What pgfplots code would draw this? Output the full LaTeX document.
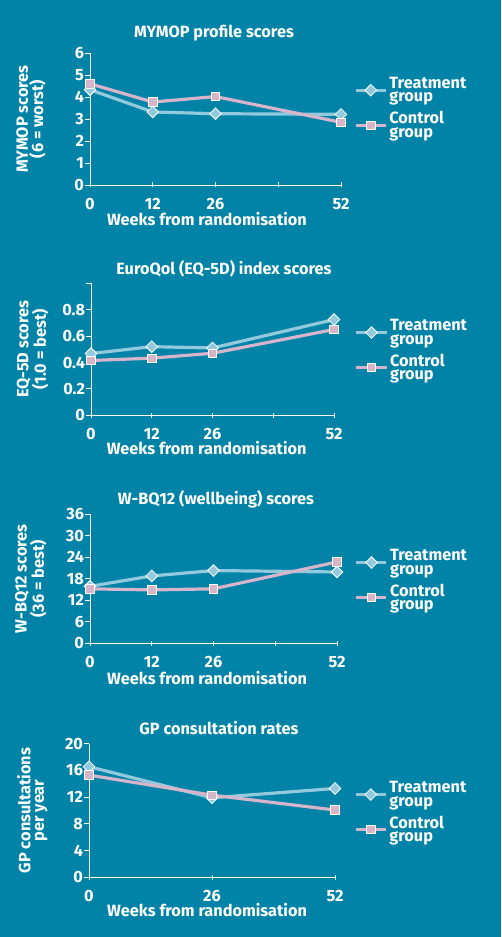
\documentclass[border=0pt]{standalone}
\usepackage{pgfplots}
\pgfplotsset{compat=1.18}
\usepackage{fontspec}
\setmainfont{Fira Sans}
\definecolor{bg}{RGB}{0,131,166}
\definecolor{treat}{RGB}{146,201,220}
\definecolor{ctrl}{RGB}{214,180,201}
\newcommand{\ff}{\fontsize{16.3}{13.5}\selectfont\bfseries}
\pgfplotsset{
  panel/.style={
    scale only axis, anchor=south west, clip=false,
    axis lines=left, axis line style={-, white, line width=0.9pt},
    xmin=0, xmax=52, enlargelimits=false,
    tick align=center, major tick length=5pt,
    tick style={white, line width=0.9pt},
    ytick style={xshift=-2.5pt},
    /pgf/number format/assume math mode=true,
    font=\ff, text=white,
    ticklabel style={text=white, font=\ff},
    xticklabel style={yshift=-7pt},
    title style={anchor=base, font=\ff, text=white},
    xlabel style={anchor=base, font=\ff, text=white},
    ylabel style={anchor=center, align=center, font=\ff, text=white},
    xlabel={Weeks from randomisation},
    legend cell align=left,
    legend style={draw=none, fill=none, text=white, font=\ff,
      cells={align=left}, inner sep=0pt, row sep=4pt,
      at={(rel axis cs:1,0)}, anchor=south west},
    legend image code/.code={\draw[mark repeat=2,mark phase=2,#1]
      plot coordinates {(0pt,0pt) (15pt,0pt) (30pt,0pt)};},
    legend entries={{Treatment\\group},{Control\\group}},
  },
  tr/.style={color=treat, line width=3.2pt, mark=square*, mark size=4.1pt,
    mark options={rotate=45, fill=treat, draw=white, line width=0.8pt}},
  ct/.style={color=ctrl, line width=3.2pt, mark=square*, mark size=4.2pt,
    mark options={fill=ctrl, draw=white, line width=0.8pt}},
}
\begin{document}
\begin{tikzpicture}[x=1pt,y=1pt]
\fill[bg] (0,0) rectangle (501,937);
\useasboundingbox (0,0) rectangle (501,937);
% Panel 1
\begin{axis}[panel, at={(90pt,752pt)}, width=251pt, height=132pt,
  ymin=0, ymax=6, ytick={0,1,2,3,4,5,6}, yticklabels={0,1,2,3,4,5,6},
  xtick={0,13,26,39,52}, xticklabels={0,12,26,,52},
  title={MYMOP profile scores},
  title style={at={(axis description cs:0.494,1)}, yshift=9.5pt},
  xlabel style={at={(axis description cs:0.466,0)}, yshift=-40.5pt},
  ylabel={MYMOP scores\\(6 = worst)},
  ylabel style={at={(axis description cs:-0.235,0.5)}},
  legend style={xshift=13pt, yshift=44pt}]
\addplot[tr] coordinates {(0,4.33) (13,3.32) (26,3.24) (52,3.21)};
\addplot[ct] coordinates {(0,4.60) (13,3.77) (26,4.02) (52,2.85)};
\end{axis}
% Panel 2
\begin{axis}[panel, at={(91pt,521.7pt)}, width=243pt, height=132pt,
  ymin=0, ymax=1, ytick={0,0.2,0.4,0.6,0.8,1}, yticklabels={0,0.2,0.4,0.6,0.8,},
  xtick={0,13,26,39,52}, xticklabels={0,12,26,,52},
  title={EuroQol (EQ-5D) index scores},
  title style={at={(axis description cs:0.547,1)}, yshift=2.6pt},
  xlabel style={at={(axis description cs:0.476,0)}, yshift=-39.7pt},
  ylabel={EQ-5D scores\\(1.0 = best)},
  ylabel style={at={(axis description cs:-0.24,0.5)}},
  legend style={xshift=20.7pt, yshift=32pt}]
\addplot[tr] coordinates {(0,0.468) (13,0.52) (26,0.51) (52,0.725)};
\addplot[ct] coordinates {(0,0.415) (13,0.433) (26,0.47) (52,0.65)};
\end{axis}
% Panel 3
\begin{axis}[panel, at={(90pt,293.7pt)}, width=247pt, height=129pt,
  ymin=0, ymax=36, ytick={0,6,12,18,24,30,36}, yticklabels={0,6,12,18,24,30,36},
  xtick={0,13,26,39,52}, xticklabels={0,12,26,,52},
  title={W-BQ12 (wellbeing) scores},
  title style={at={(axis description cs:0.51,1)}, yshift=4pt},
  xlabel style={at={(axis description cs:0.474,0)}, yshift=-41.7pt},
  ylabel={W-BQ12 scores\\(36 = best)},
  ylabel style={at={(axis description cs:-0.24,0.5)}},
  legend style={xshift=17.7pt, yshift=30pt}]
\addplot[tr] coordinates {(0,15.9) (13,18.8) (26,20.3) (52,19.9)};
\addplot[ct] coordinates {(0,15.2) (13,14.9) (26,15.2) (52,22.7)};
\end{axis}
% Panel 4
\begin{axis}[panel, at={(89pt,59.7pt)}, width=246pt, height=133.6pt,
  ymin=0, ymax=20, ytick={0,4,8,12,16,20}, yticklabels={0,4,8,12,16,20},
  xtick={0,26,52}, xticklabels={0,26,52},
  title={GP consultation rates},
  title style={at={(axis description cs:0.528,1)}, yshift=3pt},
  xlabel style={at={(axis description cs:0.48,0)}, yshift=-38.7pt},
  ylabel={GP consultations\\per year},
  ylabel style={at={(axis description cs:-0.23,0.5)}},
  legend style={xshift=19pt, yshift=32pt}]
\addplot[tr] coordinates {(0,16.56) (26,11.9) (52,13.3)};
\addplot[ct] coordinates {(0,15.3) (26,12.3) (52,10.07)};
\end{axis}
\end{tikzpicture}
\end{document}
